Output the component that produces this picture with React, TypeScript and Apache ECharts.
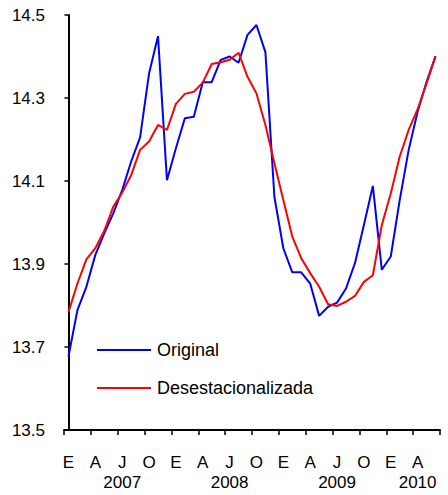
import React, { useEffect, useRef } from "react";
import * as echarts from "echarts";

const years = [2007, 2008, 2009, 2010];
const monthsPerYear = [12, 12, 12, 6];
const monthLetters = ["E", "F", "M", "A", "M", "J", "J", "A", "S", "O", "N", "D"];

const original = [
  13.677, 13.789, 13.845, 13.922, 13.974, 14.022, 14.078, 14.147, 14.205, 14.359, 14.449, 14.102,
  14.179, 14.251, 14.255, 14.338, 14.338, 14.392, 14.400, 14.385, 14.452, 14.476, 14.410, 14.062,
  13.938, 13.880, 13.880, 13.853, 13.775, 13.797, 13.807, 13.841, 13.902, 13.994, 14.088, 13.886,
  13.918, 14.054, 14.175, 14.267, 14.339, 14.401,
];

const desestacionalizada = [
  13.784, 13.853, 13.911, 13.938, 13.980, 14.038, 14.072, 14.114, 14.175, 14.195, 14.235, 14.223,
  14.286, 14.310, 14.315, 14.337, 14.382, 14.386, 14.392, 14.409, 14.351, 14.311, 14.235, 14.143,
  14.054, 13.966, 13.914, 13.878, 13.845, 13.803, 13.799, 13.809, 13.823, 13.857, 13.873, 13.994,
  14.070, 14.159, 14.223, 14.273, 14.335, 14.400,
];

const seriesNames = ["Original", "Desestacionalizada"];
const seriesColors = ["#0000ff", "#ff0000"];

export default function App() {
  const ref = useRef<HTMLDivElement>(null);

  useEffect(() => {
    if (!ref.current) return;
    const chart = echarts.init(ref.current, null, { renderer: "svg" });

    const categories: string[] = [];
    const yearCenters: number[] = [];
    let idx = 0;
    years.forEach((y, yi) => {
      const n = monthsPerYear[yi];
      yearCenters.push(idx + n / 2);
      for (let m = 0; m < n; m++) {
        categories.push(`${y}-${String(m + 1).padStart(2, "0")}`);
      }
      idx += n;
    });

    const font = "'Liberation Sans', Arial, sans-serif";

    chart.setOption({
      animation: false,
      backgroundColor: "#ffffff",
      grid: { left: 64, right: 8, top: 15, bottom: 65, containLabel: false },
      legend: {
        orient: "vertical",
        left: 97,
        top: 341,
        padding: 0,
        icon: "rect",
        itemWidth: 54,
        itemHeight: 2,
        itemGap: 20,
        data: seriesNames,
        textStyle: { fontFamily: font, fontSize: 18, color: "#000", padding: [0, 0, 0, 1] },
      },
      xAxis: [
        {
          type: "category",
          data: categories,
          boundaryGap: true,
          axisLine: { lineStyle: { color: "#000", width: 2 } },
          axisTick: { show: true, interval: 2, length: 5, lineStyle: { color: "#000", width: 1.5 } },
          axisLabel: {
            interval: 2,
            margin: 24,
            fontFamily: font,
            fontSize: 17,
            color: "#000",
            formatter: (v: string) => monthLetters[parseInt(v.split("-")[1], 10) - 1],
          },
          splitLine: { show: false },
        },
        {
          type: "value",
          position: "bottom",
          offset: 20,
          min: -0.5,
          max: categories.length - 0.5,
          axisLine: { show: false },
          axisTick: { show: false },
          splitLine: { show: false },
          axisLabel: {
            customValues: yearCenters,
            margin: 24,
            fontFamily: font,
            fontSize: 17,
            color: "#000",
            formatter: (v: number) => {
              const i = yearCenters.findIndex((c) => Math.abs(c - v) < 1e-6);
              return i >= 0 ? String(years[i]) : "";
            },
          },
        },
      ],
      yAxis: {
        type: "value",
        min: 13.5,
        max: 14.5,
        interval: 0.2,
        axisLine: { show: true, lineStyle: { color: "#000", width: 2 } },
        axisTick: { show: true, length: 4, lineStyle: { color: "#000", width: 1.5 } },
        splitLine: { show: false },
        axisLabel: {
          margin: 19,
          fontFamily: font,
          fontSize: 17,
          color: "#000",
          formatter: (v: number) => v.toFixed(1),
        },
      },
      series: [
        {
          name: seriesNames[0],
          type: "line",
          data: original,
          symbol: "none",
          xAxisIndex: 0,
          lineStyle: { color: seriesColors[0], width: 2 },
          itemStyle: { color: seriesColors[0] },
        },
        {
          name: seriesNames[1],
          type: "line",
          data: desestacionalizada,
          symbol: "none",
          xAxisIndex: 0,
          lineStyle: { color: seriesColors[1], width: 2 },
          itemStyle: { color: seriesColors[1] },
        },
      ],
    });

    return () => chart.dispose();
  }, []);

  return (
    <div
      ref={ref}
      style={{ position: "fixed", left: 0, top: 0, width: 448, height: 495 }}
    />
  );
}
